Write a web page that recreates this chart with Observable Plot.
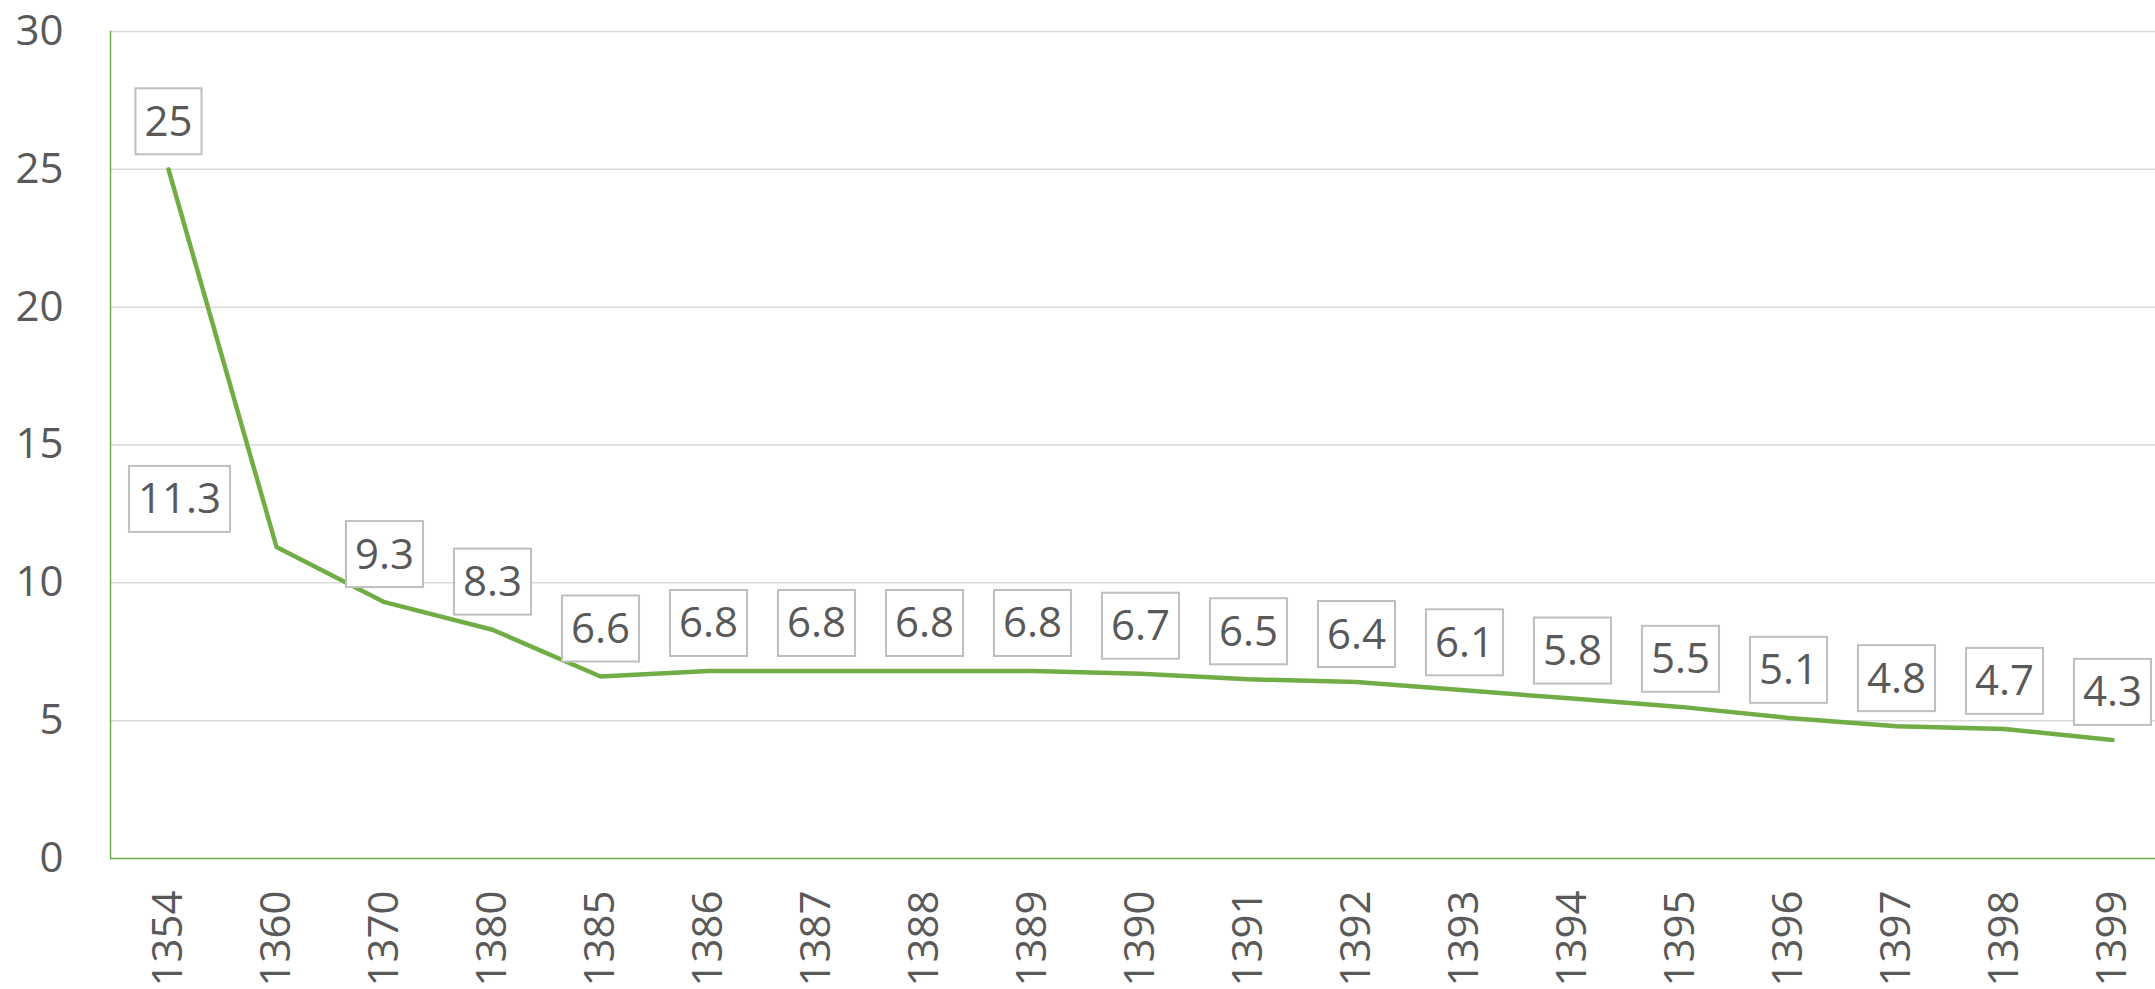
<!DOCTYPE html>
<html>
<head>
<meta charset="utf-8">
<script src="https://cdn.jsdelivr.net/npm/d3@7"></script>
<script src="https://cdn.jsdelivr.net/npm/@observablehq/plot@0.6"></script>
<style>
  html, body { margin: 0; padding: 0; background: #fff; }
  svg { font-family: "Open Sans", sans-serif; }
</style>
</head>
<body>
<script>
const years = ["1354","1360","1370","1380","1385","1386","1387","1388","1389","1390","1391","1392","1393","1394","1395","1396","1397","1398","1399"];
const values = [25, 11.3, 9.3, 8.3, 6.6, 6.8, 6.8, 6.8, 6.8, 6.7, 6.5, 6.4, 6.1, 5.8, 5.5, 5.1, 4.8, 4.7, 4.3];
const yTicks = [0, 5, 10, 15, 20, 25, 30];

const data = years.map((y, i) => ({year: y, value: values[i]}));
const leftLabelYear = "1360";

const green = "#70AD47";
const textColor = "#595959";

const chart = Plot.plot({
  width: 2155,
  height: 989,
  marginLeft: 110,
  marginRight: 0,
  marginTop: 31,
  marginBottom: 131,
  style: {background: "#fff", fontFamily: "'Open Sans', sans-serif"},
  x: {type: "point", domain: years, range: [165, 2115], padding: 0},
  y: {domain: [0, 30]},
  marks: [
    Plot.ruleY(yTicks.filter(t => t > 0), {stroke: "#d9d9d9", strokeWidth: 1.5}),
    Plot.axisY({ticks: yTicks, tickSize: 0, tickPadding: 47, fontSize: 42, color: textColor, label: null}),
    Plot.axisX({tickRotate: -90, tickSize: 0, tickPadding: 32, fontSize: 42, color: textColor, label: null}),
    Plot.frame({anchor: "left", stroke: green, strokeWidth: 1.5}),
    Plot.ruleY([0], {stroke: green, strokeWidth: 1.5}),
    Plot.line(data, {x: "year", y: "value", stroke: green, strokeWidth: 4.5, strokeLinejoin: "round", strokeLinecap: "round"}),
    Plot.text(data.filter(d => d.year !== leftLabelYear), {x: "year", y: "value", text: d => String(d.value), dy: -47, fontSize: 42, fill: textColor, lineAnchor: "middle"}),
    Plot.text(data.filter(d => d.year === leftLabelYear), {x: "year", y: "value", text: d => String(d.value), dy: -47, dx: -97, fontSize: 42, fill: textColor, lineAnchor: "middle"})
  ]
});

document.body.appendChild(chart);

// Add boxed background behind each data label
const ns = "http://www.w3.org/2000/svg";
chart.querySelectorAll('g[aria-label="text"] text').forEach(t => {
  const bb = t.getBBox();
  const cy = bb.y + bb.height / 2 + 2;
  const r = document.createElementNS(ns, "rect");
  const w = bb.width + 18, h = 66;
  r.setAttribute("x", bb.x - 9);
  r.setAttribute("y", cy - h / 2);
  r.setAttribute("width", w);
  r.setAttribute("height", h);
  r.setAttribute("fill", "#fff");
  r.setAttribute("stroke", "#bfbfbf");
  r.setAttribute("stroke-width", 2);
  const tr = t.getAttribute("transform");
  if (tr) r.setAttribute("transform", tr);
  t.parentNode.insertBefore(r, t);
});
</script>
</body>
</html>
